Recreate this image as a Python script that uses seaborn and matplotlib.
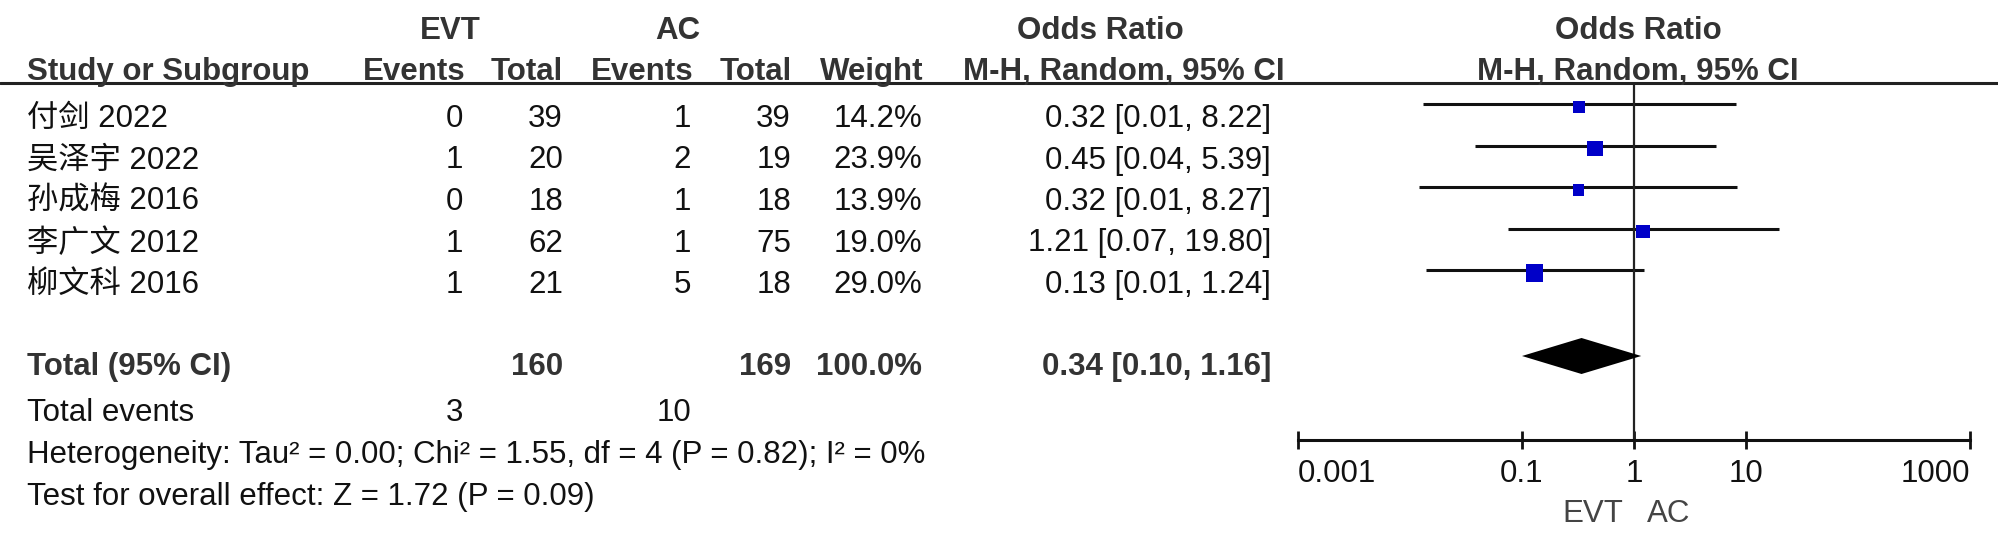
import numpy as np
import matplotlib.pyplot as plt
import seaborn as sns
from matplotlib.ticker import NullLocator

# Daten der Einzelstudien
studies = ['付剑 2022', '吴泽宇 2022', '孙成梅 2016', '李广文 2012', '柳文科 2016']
evt_events = [0, 1, 0, 1, 1]
evt_total = [39, 20, 18, 62, 21]
ac_events = [1, 2, 1, 1, 5]
ac_total = [39, 19, 18, 75, 18]
weights = [14.2, 23.9, 13.9, 19.0, 29.0]
odds_ratio = [0.32, 0.45, 0.32, 1.21, 0.13]
ci_low = [0.013, 0.038, 0.012, 0.075, 0.014]
ci_high = [8.22, 5.39, 8.27, 19.80, 1.24]
ci_text = ['0.32 [0.01, 8.22]', '0.45 [0.04, 5.39]', '0.32 [0.01, 8.27]',
           '1.21 [0.07, 19.80]', '0.13 [0.01, 1.24]']

# Gesamtwerte
total_evt, total_ac = 160, 169
events_evt, events_ac = 3, 10
pooled_or, pooled_low, pooled_high = 0.34, 0.10, 1.16
pooled_text = '0.34 [0.10, 1.16]'
heterogeneity = 'Heterogeneity: Tau² = 0.00; Chi² = 1.55, df = 4 (P = 0.82); I² = 0%'
overall = 'Test for overall effect: Z = 1.72 (P = 0.09)'

x_ticks = [0.001, 0.1, 1, 10, 1000]
x_ticklabels = ['0.001', '0.1', '1', '10', '1000']

sns.set_style('white')
plt.rcParams['font.family'] = ['Liberation Sans', 'Noto Sans CJK SC', 'DejaVu Sans']

W, H = 1999, 545
FS = 22.5
fig = plt.figure(figsize=(W / 100, H / 100), dpi=100)

# Textebene in Pixelkoordinaten
ax = fig.add_axes([0, 0, 1, 1])
ax.set_xlim(0, W)
ax.set_ylim(H, 0)
ax.axis('off')

HEAD_C = '#333333'
TXT_C = '#111111'

# Kopfzeilen
ax.text(450, 39, 'EVT', ha='center', va='baseline', fontsize=FS, fontweight='bold', color=HEAD_C)
ax.text(678, 39, 'AC', ha='center', va='baseline', fontsize=FS, fontweight='bold', color=HEAD_C)
ax.text(1100, 39, 'Odds Ratio', ha='center', va='baseline', fontsize=FS, fontweight='bold', color=HEAD_C)
ax.text(1638, 39, 'Odds Ratio', ha='center', va='baseline', fontsize=FS, fontweight='bold', color=HEAD_C)

ax.text(27, 80, 'Study or Subgroup', ha='left', va='baseline', fontsize=FS, fontweight='bold', color=HEAD_C)
for xr, lab in [(466, 'Events'), (563, 'Total'), (694, 'Events'), (792, 'Total'), (923, 'Weight'),
                (1285, 'M-H, Random, 95% CI')]:
    ax.text(xr, 80, lab, ha='right', va='baseline', fontsize=FS, fontweight='bold', color=HEAD_C)
ax.text(1638, 80, 'M-H, Random, 95% CI', ha='center', va='baseline', fontsize=FS,
        fontweight='bold', color=HEAD_C)
ax.axhline(83, color='#222222', lw=2.2)

# Zeilen der Studien
base = 127 + 41.5 * np.arange(len(studies))
for i, yb in enumerate(base):
    ax.text(27, yb, studies[i], ha='left', va='baseline', fontsize=FS, color=TXT_C)
    ax.text(463, yb, str(evt_events[i]), ha='right', va='baseline', fontsize=FS, color=TXT_C)
    ax.text(563, yb, str(evt_total[i]), ha='right', va='baseline', fontsize=FS, color=TXT_C)
    ax.text(691, yb, str(ac_events[i]), ha='right', va='baseline', fontsize=FS, color=TXT_C)
    ax.text(791, yb, str(ac_total[i]), ha='right', va='baseline', fontsize=FS, color=TXT_C)
    ax.text(922, yb, f'{weights[i]:.1f}%', ha='right', va='baseline', fontsize=FS, color=TXT_C)
    ax.text(1271, yb, ci_text[i], ha='right', va='baseline', fontsize=FS, color=TXT_C)

# Gesamtzeile
yt = 375
ax.text(27, yt, 'Total (95% CI)', ha='left', va='baseline', fontsize=FS, fontweight='bold', color=HEAD_C)
ax.text(563, yt, str(total_evt), ha='right', va='baseline', fontsize=FS, fontweight='bold', color=HEAD_C)
ax.text(791, yt, str(total_ac), ha='right', va='baseline', fontsize=FS, fontweight='bold', color=HEAD_C)
ax.text(922, yt, '100.0%', ha='right', va='baseline', fontsize=FS, fontweight='bold', color=HEAD_C)
ax.text(1271, yt, pooled_text, ha='right', va='baseline', fontsize=FS, fontweight='bold', color=HEAD_C)

ax.text(27, 421, 'Total events', ha='left', va='baseline', fontsize=FS, color=TXT_C)
ax.text(463, 421, str(events_evt), ha='right', va='baseline', fontsize=FS, color=TXT_C)
ax.text(691, 421, str(events_ac), ha='right', va='baseline', fontsize=FS, color=TXT_C)
ax.text(27, 463, heterogeneity, ha='left', va='baseline', fontsize=FS, color=TXT_C)
ax.text(27, 505, overall, ha='left', va='baseline', fontsize=FS, color=TXT_C)

# Forest-Plot
ax_f = fig.add_axes([1298 / W, 0, (1970 - 1298) / W, 1])
ax_f.set_xscale('log')
ax_f.set_xlim(0.001, 1000)
ax_f.set_ylim(H, 0)
ax_f.patch.set_alpha(0)

line_y = base - 23
ax_f.hlines(line_y, ci_low, ci_high, color='#111111', lw=2.2)
w = np.array(weights)
sns.scatterplot(x=odds_ratio, y=line_y + 3, size=weights, sizes=(5.18 * w.min(), 5.18 * w.max()),
                size_norm=(w.min(), w.max()), marker='s', color='#0000c8', linewidth=0,
                legend=False, ax=ax_f, zorder=3)

yd = yt - 19
ax_f.fill([pooled_low, pooled_or, pooled_high, pooled_or], [yd, yd - 18, yd, yd + 18],
          color='black', lw=0, zorder=3)

ax_f.vlines(1, 83, 440, color='#222222', lw=1.6)

for s in ['left', 'right', 'top']:
    ax_f.spines[s].set_visible(False)
ax_f.spines['bottom'].set_position(('data', 440))
ax_f.spines['bottom'].set_linewidth(2.2)
ax_f.spines['bottom'].set_color('#111111')
ax_f.set_xticks(x_ticks)
ax_f.set_xticklabels(x_ticklabels)
ax_f.xaxis.set_minor_locator(NullLocator())
ax_f.set_yticks([])
ax_f.tick_params(axis='x', direction='inout', length=13, width=2, pad=7, labelsize=FS,
                 colors='#111111', bottom=True)
tl = ax_f.get_xticklabels()
tl[0].set_horizontalalignment('left')
tl[-1].set_horizontalalignment('right')
ax_f.set_xlabel('')
ax_f.set_ylabel('')

ax.text(1623, 522, 'EVT', ha='right', va='baseline', fontsize=FS, color='#444444')
ax.text(1647, 522, 'AC', ha='left', va='baseline', fontsize=FS, color='#444444')

fig.savefig('out.png', dpi=100)
